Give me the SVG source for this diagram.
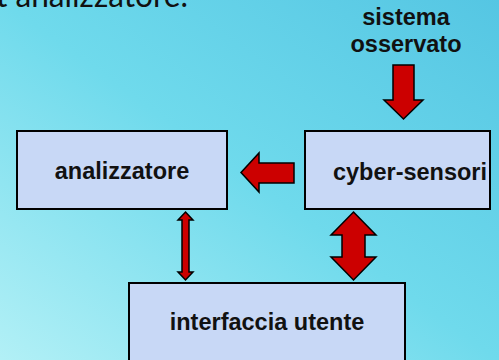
<svg xmlns="http://www.w3.org/2000/svg" width="499" height="360" viewBox="0 0 499 360">
  <defs>
    <linearGradient id="bg" x1="1" y1="0" x2="0" y2="1">
      <stop offset="0" stop-color="#55c6e3"/>
      <stop offset="0.5" stop-color="#6fdaec"/>
      <stop offset="1" stop-color="#b2f0f6"/>
    </linearGradient>
    <style>
      .box { fill: #c8d8f6; stroke: #000; stroke-width: 2; }
      .lbl { font-family: "Liberation Sans", Arial, sans-serif; font-weight: bold; font-size: 23.5px; fill: #111; text-anchor: middle; }
      .arrow { fill: #cc0000; stroke: #000; stroke-width: 1.5; stroke-linejoin: miter; }
      .caption { font-family: Lato, "Noto Sans", sans-serif; font-size: 32px; fill: #111; }
    </style>
  </defs>

  <rect width="499" height="360" fill="url(#bg)"/>

  <!-- caption line cut at the top edge -->
  <text class="caption" x="-4" y="7" textLength="192" lengthAdjust="spacingAndGlyphs">t analizzatore.</text>

  <g id="sistema-osservato">
    <text class="lbl" x="406" y="25">sistema</text>
    <text class="lbl" x="406" y="52">osservato</text>
  </g>

  <g id="analizzatore">
    <rect class="box" x="17" y="131" width="210" height="78"/>
    <text class="lbl" x="122" y="179">analizzatore</text>
  </g>

  <g id="cyber-sensori">
    <rect class="box" x="305" y="131" width="185" height="78"/>
    <text class="lbl" x="410" y="180">cyber-sensori</text>
  </g>

  <g id="interfaccia-utente">
    <rect class="box" x="129" y="283" width="276" height="90"/>
    <text class="lbl" x="267" y="330">interfaccia utente</text>
  </g>

  <g id="connectors">
    <!-- sistema osservato -> cyber-sensori -->
    <polygon class="arrow" points="393,65 414,65 414,100 423,100 403.5,119 384,100 393,100"/>
    <!-- cyber-sensori -> analizzatore -->
    <polygon class="arrow" points="294,163 294,183 259,183 259,192 241,172.5 259,153 259,163"/>
    <!-- analizzatore <-> interfaccia utente -->
    <polygon class="arrow" points="185.5,212 193,220 189,220 189,272 193,272 185.5,280 178,272 182,272 182,220 178,220"/>
    <!-- cyber-sensori <-> interfaccia utente -->
    <polygon class="arrow" points="353.5,212 376,235 365,235 365,257 376,257 353.5,280 331,257 342,257 342,235 331,235"/>
  </g>
</svg>
